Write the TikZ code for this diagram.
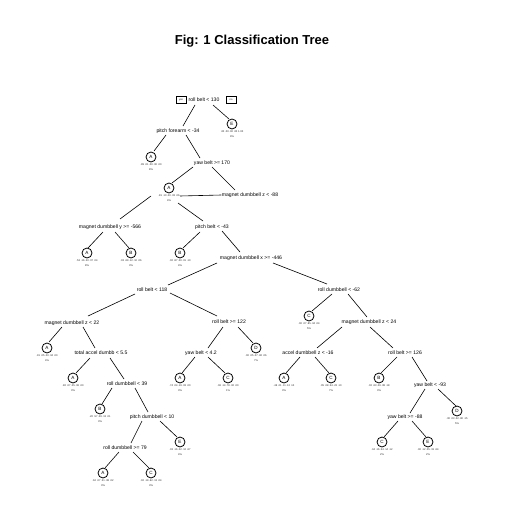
\documentclass[tikz,border=0pt]{standalone}
\usepackage{fontspec}
\setmainfont{Liberation Sans}
\tikzset{
  splitlab/.style={font=\fontsize{5.1}{5.5}\selectfont, inner sep=0.3pt},
  leafbox/.style={draw, circle, line width=0.8pt, minimum size=10pt, inner sep=0pt, font=\fontsize{4.6}{5}\selectfont},
  leaftxt/.style={font=\fontsize{2.6}{3}\selectfont, inner sep=0pt, text=black!85},
  yesno/.style={draw, line width=0.6pt, minimum width=10pt, minimum height=7pt, inner sep=0pt, font=\fontsize{2.5}{2.5}\selectfont},
  br/.style={line width=0.6pt}
}
\newcommand\leafat[6]{%
  \node[leafbox] (#1) at (#2,#3) {#4};
  \node[leaftxt] (#1p) at (#2,#3+8) {#5};
  \node[leaftxt] (#1q) at (#2,#3+13) {#6};}
\begin{document}
\begin{tikzpicture}[x=1pt,y=-1pt]
\useasboundingbox (0,0) rectangle (508,524);
\fill[white] (0,0) rectangle (508,524);
\node[font=\bfseries\fontsize{13}{15}\selectfont] (title) at (252,41) {Fig: 1 Classification Tree};

% split labels
\node[splitlab] (s1) at (204,100) {roll belt < 130};
\node[yesno] (yes) at (181,100) {yes};
\node[yesno] (no) at (231,100) {no};
\node[splitlab] (s2) at (178,131) {pitch forearm < -34};
\node[splitlab] (s3) at (212,163) {yaw belt >= 170};
\node[splitlab] (s4) at (250,195) {magnet dumbbell z < -88};
\node[splitlab] (s5) at (110,227) {magnet dumbbell y >= -566};
\node[splitlab] (s6) at (212,227) {pitch belt < -43};
\node[splitlab] (s7) at (251,258) {magnet dumbbell x >= -446};
\node[splitlab] (s8) at (152,290) {roll belt < 118};
\node[splitlab] (s9) at (339,290) {roll dumbbell < -62};
\node[splitlab] (s10) at (72,323) {magnet dumbbell z < 22};
\node[splitlab] (s11) at (229,322) {roll belt >= 122};
\node[splitlab] (s12) at (101,353) {total accel dumbb < 5.5};
\node[splitlab] (s13) at (201,353) {yaw belt < 4.2};
\node[splitlab] (s14) at (369,322) {magnet dumbbell z < 24};
\node[splitlab] (s15) at (308,353) {accel dumbbell z < -16};
\node[splitlab] (s16) at (405,353) {roll belt >= 126};
\node[splitlab] (s17) at (127,384) {roll dumbbell < 39};
\node[splitlab] (s18) at (430,385) {yaw belt < -93};
\node[splitlab] (s19) at (152,417) {pitch dumbbell < 10};
\node[splitlab] (s20) at (405,417) {yaw belt >= -88};
\node[splitlab] (s21) at (125,448) {roll dumbbell >= 79};

% branches
\draw[br] (195,105) -- (183,126);
\draw[br] (213,105) -- (229,119);
\draw[br] (166,135) -- (154,151);
\draw[br] (186,135) -- (200,158);
\draw[br] (193,167) -- (172,183);
\draw[br] (212,167) -- (235,190);
\draw[br] (180,196) -- (s4.west);
\draw[br] (151,196) -- (120,219);
\draw[br] (178,203) -- (203,221);
\draw[br] (103,232) -- (88,248);
\draw[br] (115,232) -- (129,248);
\draw[br] (200,232) -- (183,248);
\draw[br] (222,231) -- (240,252);
\draw[br] (217,263) -- (168,285);
\draw[br] (273,263) -- (327,284);
\draw[br] (135,294) -- (88,316);
\draw[br] (170,293) -- (217,316);
\draw[br] (62,327) -- (49,342);
\draw[br] (83,327) -- (95,348);
\draw[br] (90,358) -- (76,373);
\draw[br] (110,358) -- (124,379);
\draw[br] (112,388) -- (102,404);
\draw[br] (135,388) -- (148,412);
\draw[br] (142,421) -- (131,443);
\draw[br] (160,421) -- (177,437);
\draw[br] (119,452) -- (105,468);
\draw[br] (133,452) -- (149,468);
\draw[br] (223,327) -- (208,348);
\draw[br] (238,327) -- (253,343);
\draw[br] (195,357) -- (182,373);
\draw[br] (208,357) -- (225,373);
\draw[br] (332,294) -- (312,311);
\draw[br] (348,294) -- (367,317);
\draw[br] (342,327) -- (317,348);
\draw[br] (370,327) -- (393,348);
\draw[br] (300,357) -- (286,373);
\draw[br] (315,357) -- (329,373);
\draw[br] (397,357) -- (381,373);
\draw[br] (412,357) -- (427,381);
\draw[br] (425,389) -- (410,413);
\draw[br] (438,389) -- (456,406);
\draw[br] (398,421) -- (384,437);
\draw[br] (412,421) -- (426,437);

% leaves
\leafat{l1}{232}{124}{E}{.00 .00 .00 .00 1.00}{9\%}
\leafat{l2}{151}{157}{A}{.99 .01 .00 .00 .00}{8\%}
\leafat{l3}{169}{188}{A}{.81 .10 .00 .03 .06}{4\%}
\leafat{l4}{87}{253}{A}{.53 .16 .20 .07 .04}{8\%}
\leafat{l5}{131}{253}{B}{.03 .69 .12 .10 .06}{3\%}
\leafat{l6}{180}{253}{B}{.02 .87 .00 .01 .10}{4\%}
\leafat{l7}{47}{348}{A}{.91 .05 .00 .04 .00}{4\%}
\leafat{l8}{73}{378}{A}{.82 .07 .05 .06 .00}{3\%}
\leafat{l9}{100}{409}{B}{.20 .57 .09 .13 .01}{3\%}
\leafat{l10}{180}{442}{E}{.03 .16 .02 .12 .67}{4\%}
\leafat{l11}{103}{473}{A}{.62 .07 .21 .08 .02}{3\%}
\leafat{l12}{151}{473}{C}{.02 .19 .62 .13 .04}{3\%}
\leafat{l13}{180}{378}{A}{.74 .04 .19 .03 .00}{3\%}
\leafat{l14}{228}{378}{C}{.06 .14 .78 .02 .00}{1\%}
\leafat{l15}{256}{348}{D}{.00 .05 .07 .82 .06}{7\%}
\leafat{l16}{309}{316}{C}{.00 .07 .85 .04 .04}{5\%}
\leafat{l17}{284}{378}{A}{.46 .21 .11 .12 .10}{3\%}
\leafat{l18}{331}{378}{C}{.05 .08 .54 .23 .10}{7\%}
\leafat{l19}{379}{378}{B}{.02 .63 .09 .08 .18}{3\%}
\leafat{l20}{457}{411}{D}{.00 .03 .02 .80 .15}{5\%}
\leafat{l21}{382}{442}{C}{.04 .16 .54 .14 .12}{2\%}
\leafat{l22}{428}{442}{E}{.00 .12 .05 .19 .64}{2\%}
\end{tikzpicture}
\end{document}
